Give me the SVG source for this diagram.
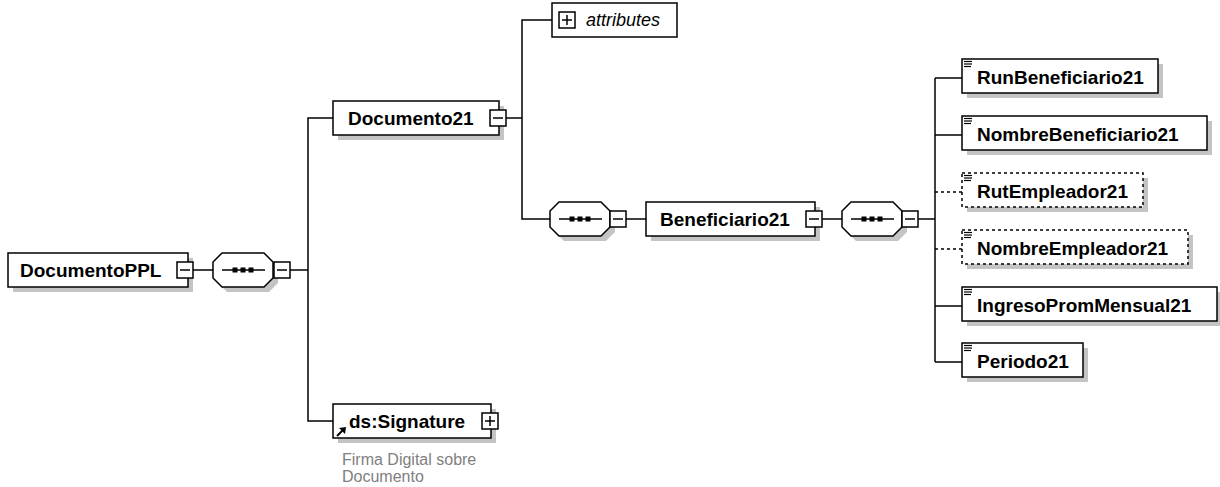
<svg xmlns="http://www.w3.org/2000/svg" width="1220" height="487" viewBox="0 0 1220 487">
<style>
.bx{fill:#fff;stroke:#000;stroke-width:1.5}
.dbx{fill:#fff;stroke:#000;stroke-width:1.5;stroke-dasharray:3,3}
.sh{fill:#c4c4c4}
.ln{fill:none;stroke:#000;stroke-width:1.5}
.dln{fill:none;stroke:#000;stroke-width:1.5;stroke-dasharray:3,3}
.t{font-family:"Liberation Sans",Arial,sans-serif;font-weight:bold;font-size:19px;fill:#000}
.ti{font-family:"Liberation Sans",Arial,sans-serif;font-style:italic;font-size:18px;fill:#000}
.cap{font-family:"Liberation Sans",Arial,sans-serif;font-size:16px;fill:#808080}
.ic{fill:none;stroke:#000;stroke-width:1.2}
</style>
<defs>
<g id="minus"><rect class="bx" x="0" y="0" width="16" height="16"/><line class="ln" x1="3" y1="8" x2="13" y2="8"/></g>
<g id="plus"><rect class="bx" x="0" y="0" width="16" height="16"/><line class="ln" x1="3" y1="8" x2="13" y2="8"/><line class="ln" x1="8" y1="3" x2="8" y2="13"/></g>
<g id="seqshape">
<polygon class="sh" points="14,5 56,5 65,14 65,30 56,39 14,39 5,30 5,14"/>
<polygon class="bx" points="9,0 51,0 60,9 60,25 51,34 9,34 0,25 0,9"/>
<line class="ln" x1="9" y1="17" x2="52" y2="17"/>
<rect x="19.5" y="14.5" width="5" height="5" fill="#000"/>
<rect x="27.5" y="14.5" width="5" height="5" fill="#000"/>
<rect x="35.5" y="14.5" width="5" height="5" fill="#000"/>
</g>
<g id="elicon"><line class="ic" x1="2" y1="2.5" x2="10" y2="2.5"/><line class="ic" x1="2" y1="5" x2="10" y2="5"/><line class="ic" x1="2" y1="7.5" x2="9" y2="7.5"/></g>
</defs>

<g id="connectors">
<line class="ln" x1="193" y1="270" x2="213" y2="270"/>
<line class="ln" x1="290" y1="270" x2="308" y2="270"/>
<polyline class="ln" points="333,118 308,118 308,421 333,421"/>
<line class="ln" x1="506" y1="118" x2="522" y2="118"/>
<polyline class="ln" points="552,20 522,20 522,219 550,219"/>
<line class="ln" x1="626" y1="219" x2="646" y2="219"/>
<line class="ln" x1="822" y1="219" x2="842" y2="219"/>
<line class="ln" x1="918" y1="219" x2="935" y2="219"/>
<line class="ln" x1="935" y1="78" x2="935" y2="362"/>
<line class="ln" x1="935" y1="78" x2="962" y2="78"/>
<line class="ln" x1="935" y1="135" x2="962" y2="135"/>
<line class="dln" x1="935" y1="192" x2="962" y2="192"/>
<line class="dln" x1="935" y1="249" x2="962" y2="249"/>
<line class="ln" x1="935" y1="306" x2="962" y2="306"/>
<line class="ln" x1="935" y1="362" x2="962" y2="362"/>
</g>

<g id="DocumentoPPL">
<rect class="sh" x="13" y="258" width="180" height="34"/>
<rect class="bx" x="8" y="253" width="180" height="34"/>
<text class="t" x="20" y="277">DocumentoPPL</text>
<use href="#minus" x="177" y="262"/>
</g>

<g id="seq1">
<use href="#seqshape" x="213" y="253"/>
<use href="#minus" x="274" y="262"/>
</g>

<g id="Documento21">
<rect class="sh" x="338" y="106" width="166" height="34"/>
<rect class="bx" x="333" y="101" width="166" height="34"/>
<text class="t" x="348" y="125">Documento21</text>
<use href="#minus" x="490" y="110"/>
</g>

<g id="attributes">
<rect class="bx" x="552" y="3" width="125" height="34"/>
<use href="#plus" x="559" y="12"/>
<text class="ti" x="586" y="26">attributes</text>
</g>

<g id="seq2">
<use href="#seqshape" x="550" y="202"/>
<use href="#minus" x="610" y="211"/>
</g>

<g id="Beneficiario21">
<rect class="sh" x="651" y="207" width="169" height="34"/>
<rect class="bx" x="646" y="202" width="169" height="34"/>
<text class="t" x="660" y="226">Beneficiario21</text>
<use href="#minus" x="806" y="211"/>
</g>

<g id="seq3">
<use href="#seqshape" x="842" y="202"/>
<use href="#minus" x="902" y="211"/>
</g>

<g id="RunBeneficiario21">
<rect class="sh" x="967" y="64" width="196" height="34"/>
<rect class="bx" x="962" y="59" width="196" height="34"/>
<use href="#elicon" x="962" y="59"/>
<text class="t" x="977" y="84">RunBeneficiario21</text>
</g>

<g id="NombreBeneficiario21">
<rect class="sh" x="967" y="121" width="245" height="34"/>
<rect class="bx" x="962" y="116" width="245" height="34"/>
<use href="#elicon" x="962" y="116"/>
<text class="t" x="977" y="141">NombreBeneficiario21</text>
</g>

<g id="RutEmpleador21">
<rect class="sh" x="967" y="178" width="181" height="34"/>
<rect class="dbx" x="962" y="173" width="181" height="34"/>
<use href="#elicon" x="962" y="173"/>
<text class="t" x="977" y="198">RutEmpleador21</text>
</g>

<g id="NombreEmpleador21">
<rect class="sh" x="967" y="235" width="226" height="34"/>
<rect class="dbx" x="962" y="230" width="226" height="34"/>
<use href="#elicon" x="962" y="230"/>
<text class="t" x="977" y="255">NombreEmpleador21</text>
</g>

<g id="IngresoPromMensual21">
<rect class="sh" x="967" y="292" width="255" height="34"/>
<rect class="bx" x="962" y="287" width="255" height="34"/>
<use href="#elicon" x="962" y="287"/>
<text class="t" x="977" y="312">IngresoPromMensual21</text>
</g>

<g id="Periodo21">
<rect class="sh" x="967" y="348" width="121" height="34"/>
<rect class="bx" x="962" y="343" width="121" height="34"/>
<use href="#elicon" x="962" y="343"/>
<text class="t" x="977" y="368">Periodo21</text>
</g>

<g id="dsSignature">
<rect class="sh" x="338" y="409" width="158" height="34"/>
<rect class="bx" x="333" y="404" width="158" height="34"/>
<text class="t" x="349" y="428">ds:Signature</text>
<use href="#plus" x="482" y="413"/>
<line x1="337" y1="436" x2="343" y2="430" stroke="#000" stroke-width="2"/>
<polygon points="346,427 339,428 345,434" fill="#000"/>
<text class="cap" x="342" y="465">Firma Digital sobre</text>
<text class="cap" x="342" y="482">Documento</text>
</g>
</svg>
